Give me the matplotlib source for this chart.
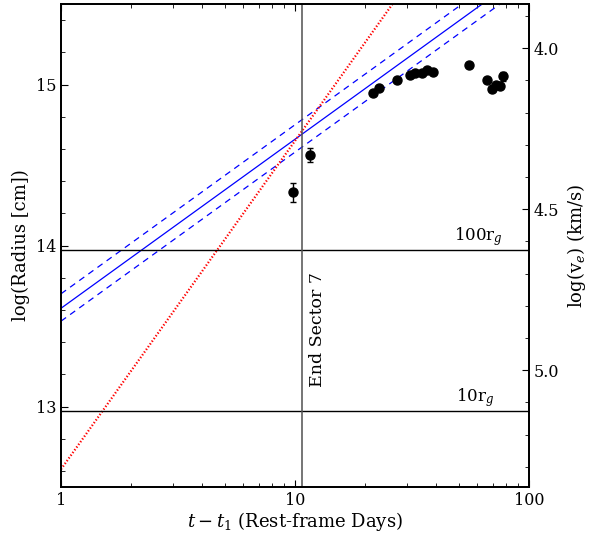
import numpy as np
import matplotlib
matplotlib.use("Agg")
import matplotlib.pyplot as plt
from matplotlib.ticker import MultipleLocator, FixedLocator

plt.rcParams['font.family'] = ['DejaVu Serif']
plt.rcParams['mathtext.fontset'] = 'dejavuserif'

# observed radii (rest-frame days since t1, log R in cm)
days = [9.83, 11.59, 21.6, 22.9, 27.4, 31.0, 32.6, 34.8, 36.5, 39.0,
        55.6, 66.0, 69.3, 72.3, 75.2, 77.6]
log_r = [14.33, 14.56, 14.95, 14.98, 15.025, 15.06, 15.07, 15.07, 15.09, 15.08,
         15.12, 15.025, 14.975, 15.0, 14.99, 15.05]
log_r_err = [0.06, 0.043, 0.01, 0.01, 0.01, 0.01, 0.01, 0.01, 0.01, 0.01,
             0.01, 0.01, 0.01, 0.01, 0.01, 0.03]

# power-law fits: log R = a + b log t
fit_a, fit_b = 13.61, 1.05
fit_lo_a, fit_hi_a = 13.53, 13.70
acc_a, acc_b = 12.61, 2.04

log_rg = 11.97       # log of gravitational radius (cm)
t_sector7 = 10.68

def logv(lr):
    # escape velocity in km/s for radius 10**lr
    return np.log10(3e5) + 0.5 * (np.log10(2) + log_rg - lr)

fig = plt.figure(figsize=(5.95, 5.35), dpi=100)
ax = fig.add_axes([0.1025, 0.0897, 0.7866, 0.9028])

t = np.logspace(0, 2, 200)
lt = np.log10(t)
ax.plot(t, fit_a + fit_b * lt, color='blue', lw=0.9)
ax.plot(t, fit_hi_a + fit_b * lt, color='blue', lw=0.9, ls=(0, (5, 4)))
ax.plot(t, fit_lo_a + fit_b * lt, color='blue', lw=0.9, ls=(0, (5, 4)))
ax.plot(t, acc_a + acc_b * lt, color='red', lw=1.6, ls=(0, (0.6, 0.9)))

ax.axhline(log_rg + 2, color='black', lw=1.0)
ax.axhline(log_rg + 1, color='black', lw=1.0)
ax.axvline(t_sector7, color='#505050', lw=1.1)

ax.errorbar(days, log_r, yerr=log_r_err, fmt='o', color='black',
            ms=6.5, capsize=2.5, elinewidth=1, capthick=1)

ax.text(t_sector7 * 1.17, 13.48, 'End Sector 7', rotation=90,
        ha='center', va='center', fontsize=12.5)
ax.text(77, log_rg + 2 + 0.015, '100r$_g$', ha='right', va='bottom', fontsize=12)
ax.text(71, log_rg + 1 + 0.015, '10r$_g$', ha='right', va='bottom', fontsize=12)

ax.set_xscale('log')
ax.set_xlim(1, 100)
ax.set_ylim(12.5, 15.5)
ax.set_xticks([1, 10, 100])
ax.set_xticklabels(['1', '10', '100'])
ax.yaxis.set_major_locator(FixedLocator([13, 14, 15]))
ax.yaxis.set_minor_locator(MultipleLocator(0.2))
ax.tick_params(which='both', direction='in', top=True, right=False, labelsize=11.5)
ax.tick_params(which='major', length=5)
ax.tick_params(which='minor', length=3)
ax.set_xlabel('$t - t_1$ (Rest-frame Days)', fontsize=13, labelpad=1)
ax.set_ylabel('log(Radius [cm])', fontsize=13)

ax2 = ax.twinx()
ax2.set_ylim(logv(12.5), logv(15.5))
ax2.yaxis.set_major_locator(FixedLocator([4.0, 4.5, 5.0]))
ax2.yaxis.set_minor_locator(MultipleLocator(0.1))
ax2.tick_params(which='both', direction='in', labelsize=11.5)
ax2.tick_params(which='major', length=5)
ax2.tick_params(which='minor', length=3)
ax2.set_ylabel('log(v$_e$) (km/s)', fontsize=13)

for a in (ax, ax2):
    for s in a.spines.values():
        s.set_linewidth(1.3)

fig.savefig('out.png', dpi=100)
